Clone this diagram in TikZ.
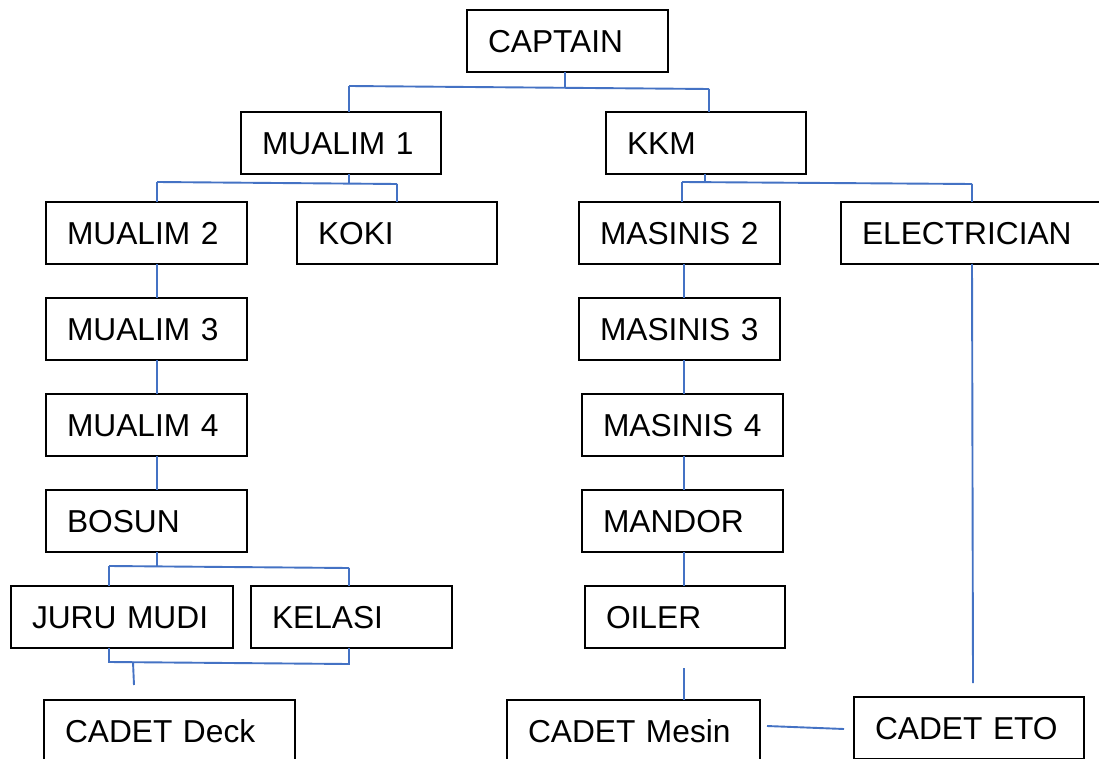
\documentclass[tikz,border=0pt]{standalone}
\usepackage{fontspec}
\setmainfont{Liberation Sans}
\definecolor{conncol}{HTML}{4472C4}
\tikzset{
  box/.style={draw=black, line width=1.8pt, rectangle, anchor=north west,
    inner xsep=21pt, inner ysep=0pt, outer sep=0pt, text height=23pt, text depth=0pt,
    minimum height=62pt, align=left, font=\fontsize{31.7}{38}\selectfont},
  conn/.style={draw=conncol, line width=1.9pt},
}
\begin{document}
\begin{tikzpicture}[x=1pt,y=-1pt]
\path[use as bounding box, fill=white] (0,0) rectangle (1099,759);
\clip (0,0) rectangle (1099,759);
% boxes
\node[box, text width=159pt] (captain) at (467,10) {\mbox{CAPTAIN}};
\node[box, text width=158pt] (mualim1) at (241,112) {\mbox{MUALIM 1}};
\node[box, text width=158pt] (kkm) at (606,112) {\mbox{KKM}};
\node[box, text width=159pt] (mualim2) at (46,202) {\mbox{MUALIM 2}};
\node[box, text width=158pt] (koki) at (297,202) {\mbox{KOKI}};
\node[box, text width=159pt] (masinis2) at (579,202) {\mbox{MASINIS 2}};
\node[box, text width=228pt] (electrician) at (841,202) {\mbox{ELECTRICIAN}};
\node[box, text width=159pt] (mualim3) at (46,298) {\mbox{MUALIM 3}};
\node[box, text width=159pt] (masinis3) at (579,298) {\mbox{MASINIS 3}};
\node[box, text width=159pt] (mualim4) at (46,394) {\mbox{MUALIM 4}};
\node[box, text width=159pt] (masinis4) at (582,394) {\mbox{MASINIS 4}};
\node[box, text width=159pt] (bosun) at (46,490) {\mbox{BOSUN}};
\node[box, text width=159pt] (mandor) at (582,490) {\mbox{MANDOR}};
\node[box, text width=180pt] (jurumudi) at (11,586) {\mbox{JURU MUDI}};
\node[box, text width=159pt] (kelasi) at (251,586) {\mbox{KELASI}};
\node[box, text width=158pt] (oiler) at (585,586) {\mbox{OILER}};
\node[box, text width=209pt] (cadetdeck) at (44,700) {\mbox{CADET Deck}};
\node[box, text width=211pt] (cadetmesin) at (507,700) {\mbox{CADET Mesin}};
\node[box, text width=188pt] (cadeteto) at (854,697) {\mbox{CADET ETO}};
% captain group
\coordinate (c0) at (565,88);
\coordinate (cL) at (349,86);
\coordinate (cR) at (709,89);
\draw[conn] (captain.south -| c0) -- (c0);
\draw[conn] (cL) -- (cR);
\draw[conn] (cL) -- (cL |- mualim1.north);
\draw[conn] (cR) -- (cR |- kkm.north);
% mualim 1 group
\coordinate (m0) at (349,183);
\coordinate (mL) at (157,182);
\coordinate (mR) at (397,184);
\draw[conn] (mualim1.south -| m0) -- (m0);
\draw[conn] (mL) -- (mR);
\draw[conn] (mL) -- (mL |- mualim2.north);
\draw[conn] (mR) -- (mR |- koki.north);
% kkm group
\coordinate (k0) at (705,182);
\coordinate (kL) at (682,182);
\coordinate (kR) at (972,184);
\draw[conn] (kkm.south -| k0) -- (k0);
\draw[conn] (kL) -- (kR);
\draw[conn] (kL) -- (kL |- masinis2.north);
\draw[conn] (kR) -- (kR |- electrician.north);
% deck chain
\coordinate (dx) at (157,0);
\draw[conn] (mualim2.south -| dx) -- (mualim3.north -| dx);
\draw[conn] (mualim3.south -| dx) -- (mualim4.north -| dx);
\draw[conn] (mualim4.south -| dx) -- (bosun.north -| dx);
% bosun group
\coordinate (b0) at (157,567);
\coordinate (bL) at (109,566);
\coordinate (bR) at (349,568);
\draw[conn] (bosun.south -| b0) -- (b0);
\draw[conn] (bL) -- (bR);
\draw[conn] (bL) -- (bL |- jurumudi.north);
\draw[conn] (bR) -- (bR |- kelasi.north);
% juru mudi / kelasi group
\coordinate (jL) at (109,662);
\coordinate (jR) at (349,664);
\coordinate (j0) at (133,662);
\coordinate (j1) at (134,685);
\draw[conn] (jurumudi.south -| jL) -- (jL) -- (jR) -- (kelasi.south -| jR);
\draw[conn] (j0) -- (j1);
% engine chain
\coordinate (ex) at (684,0);
\draw[conn] (masinis2.south -| ex) -- (masinis3.north -| ex);
\draw[conn] (masinis3.south -| ex) -- (masinis4.north -| ex);
\draw[conn] (masinis4.south -| ex) -- (mandor.north -| ex);
\draw[conn] (mandor.south -| ex) -- (oiler.north -| ex);
\coordinate (o1) at (684,668);
\draw[conn] (o1) -- (cadetmesin.north -| o1);
% electrician line
\coordinate (e1) at (973,683);
\draw[conn] (electrician.south -| kR) -- (e1);
% cadet mesin - cadet eto
\coordinate (cm1) at (767,726);
\coordinate (ce1) at (844,729);
\draw[conn] (cm1) -- (ce1);
\end{tikzpicture}
\end{document}
